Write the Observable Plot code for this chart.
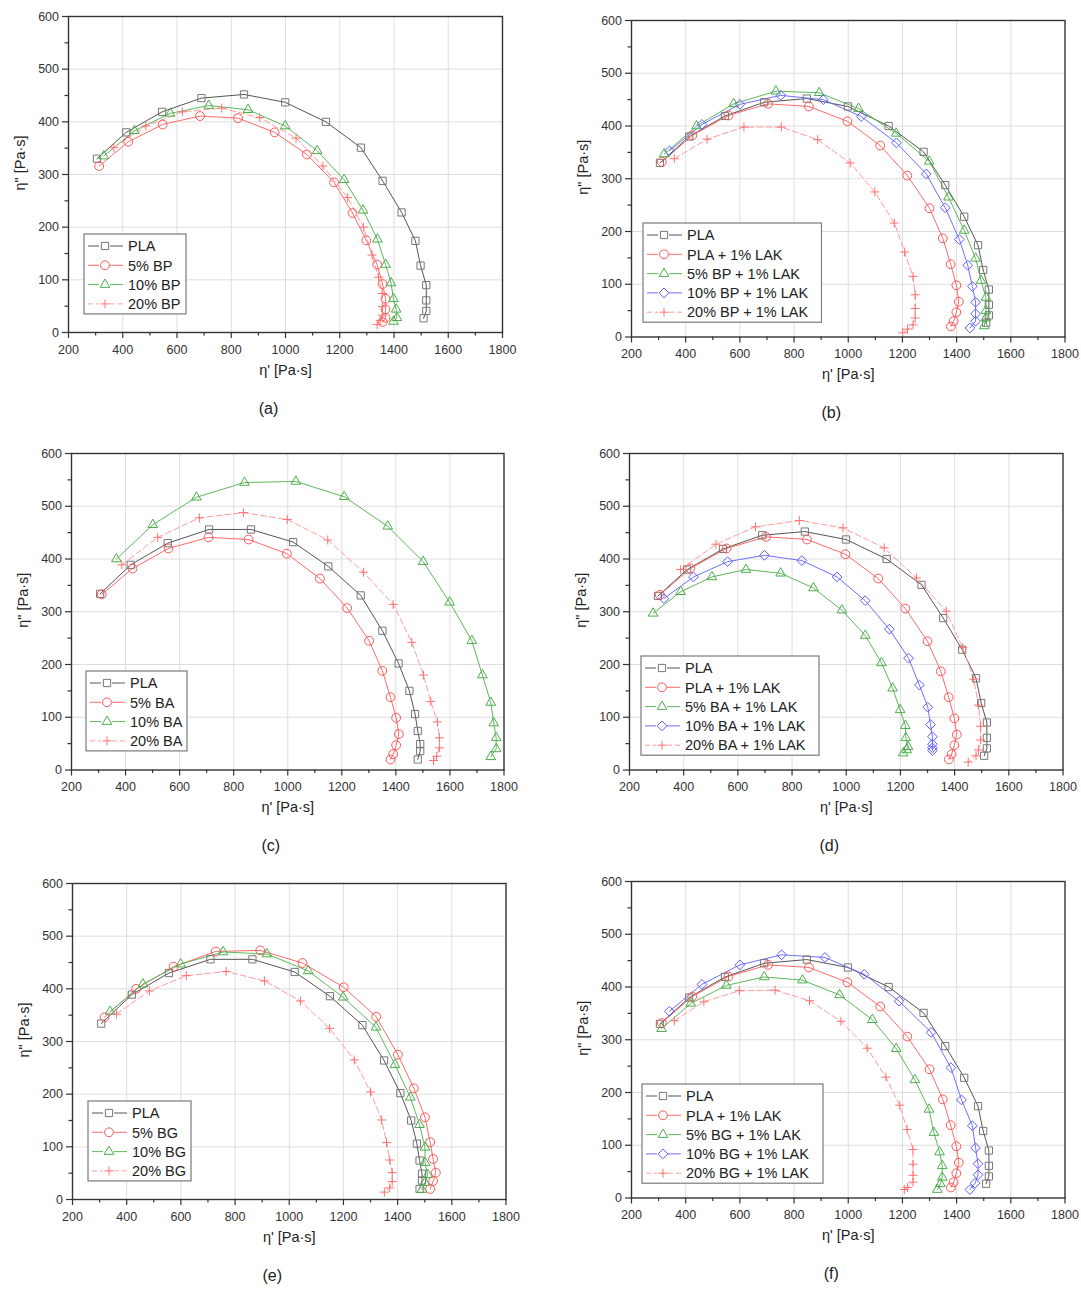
<!DOCTYPE html>
<html><head><meta charset="utf-8">
<script src="https://cdn.jsdelivr.net/npm/d3@7"></script>
<script src="https://cdn.jsdelivr.net/npm/@observablehq/plot@0.6"></script>
<style>
body{margin:0;background:#fff;}
#wrap{position:relative;width:1081px;height:1290px;overflow:hidden;font-family:Arial,"Liberation Sans",sans-serif;}
.panel{position:absolute;}
.legend{position:absolute;}
</style></head><body><div id="wrap"></div>
<script>
// ---- axis ticks ----
const xTicks = [200,400,600,800,1000,1200,1400,1600,1800];
const xMinor = [300,500,700,900,1100,1300,1500,1700];
const yTicks = [0,100,200,300,400,500,600];
const yMinor = [50,150,250,350,450,550];
const xGrid = [400,600,800,1000,1200,1400,1600];
const yGrid = [100,200,300,400,500];

// ---- series values [eta', eta''] ----
const PLA_A = [[305,330],[413,380],[545,419],[690,445],[847,452],[999,437],[1149,400],[1278,351],[1358,288],[1428,228],[1479,174],[1498,127],[1519,90],[1519,61],[1519,41],[1509,27]];
const PLA_C = [[306,334],[419,389],[556,430],[709,456],[864,456],[1020,432],[1150,386],[1270,331],[1350,264],[1410,202],[1450,150],[1471,106],[1481,74],[1490,49],[1490,36],[1481,20]];
const PLA_LAK = [[312,332],[424,382],[558,420],[704,442],[855,437],[997,409],[1118,363],[1218,306],[1300,244],[1349,187],[1378,138],[1399,98],[1408,67],[1399,47],[1389,30],[1379,20]];

const BP5 = [[313,316],[420,362],[547,395],[685,411],[825,407],[960,380],[1079,338],[1179,285],[1247,227],[1298,175],[1338,129],[1358,92],[1369,64],[1369,44],[1369,28],[1358,20]];
const BP10 = [[330,335],[443,383],[575,416],[717,431],[862,423],[999,392],[1117,345],[1216,290],[1286,232],[1339,177],[1369,129],[1389,94],[1398,64],[1408,44],[1411,28],[1398,21]];
const BP20 = [[367,351],[485,392],[620,419],[765,426],[905,408],[1039,369],[1138,316],[1229,256],[1288,200],[1319,147],[1343,105],[1357,74],[1357,49],[1357,33],[1349,23],[1338,15]];

const BP5_LAK = [[321,347],[440,400],[577,442],[733,466],[893,463],[1038,433],[1177,386],[1299,333],[1370,265],[1428,202],[1470,149],[1490,107],[1508,75],[1508,50],[1508,36],[1502,21]];
const BP10_LAK = [[340,353],[460,403],[600,441],[751,458],[908,450],[1048,418],[1178,368],[1288,309],[1358,245],[1410,185],[1441,136],[1458,96],[1470,66],[1470,44],[1470,30],[1449,17]];
const BP20_LAK = [[358,338],[479,375],[615,398],[753,398],[887,374],[1007,330],[1098,275],[1170,216],[1208,161],[1239,115],[1247,80],[1247,54],[1247,36],[1239,23],[1219,15],[1201,8]];

const BA5 = [[312,333],[426,382],[559,420],[707,441],[855,437],[997,410],[1119,363],[1220,307],[1301,245],[1350,188],[1380,138],[1401,99],[1411,68],[1401,47],[1390,30],[1380,20]];
const BA10 = [[366,400],[501,465],[662,517],[840,545],[1030,547],[1209,518],[1370,462],[1501,395],[1599,318],[1681,245],[1720,180],[1751,128],[1762,89],[1771,61],[1771,40],[1751,25]];
const BA20 = [[386,389],[519,441],[673,478],[836,488],[998,475],[1148,436],[1280,375],[1390,314],[1459,242],[1502,180],[1529,130],[1554,91],[1561,61],[1561,42],[1551,26],[1539,18]];

const BA5_LAK = [[287,297],[389,338],[504,366],[630,380],[758,373],[879,345],[984,303],[1070,255],[1130,203],[1171,155],[1199,114],[1218,84],[1220,61],[1228,44],[1223,38],[1210,32]];
const BA10_LAK = [[327,325],[436,366],[562,395],[698,407],[836,397],[966,366],[1070,321],[1159,267],[1230,212],[1270,161],[1301,119],[1311,86],[1318,63],[1318,49],[1318,42],[1318,37]];
const BA20_LAK = [[389,380],[519,428],[665,461],[827,473],[988,459],[1140,421],[1259,364],[1369,301],[1430,232],[1471,172],[1488,123],[1496,83],[1496,57],[1488,38],[1479,27],[1450,15]];

const BG5 = [[318,346],[435,400],[573,442],[729,471],[893,473],[1049,449],[1201,403],[1321,347],[1401,275],[1460,211],[1501,156],[1520,109],[1531,77],[1541,51],[1531,35],[1520,20]];
const BG10 = [[339,357],[460,409],[599,447],[756,470],[918,466],[1070,434],[1199,384],[1320,327],[1390,256],[1447,194],[1481,142],[1501,99],[1501,70],[1511,47],[1501,32],[1490,19]];
const BG20 = [[362,352],[484,396],[620,425],[767,433],[909,415],[1041,377],[1149,325],[1240,265],[1300,204],[1341,151],[1359,108],[1371,75],[1380,51],[1380,34],[1371,22],[1351,14]];

const BG5_LAK = [[311,321],[419,369],[550,403],[690,419],[831,413],[968,385],[1089,338],[1177,283],[1246,224],[1298,168],[1316,124],[1337,87],[1347,61],[1347,39],[1340,27],[1329,16]];
const BG10_LAK = [[340,354],[460,405],[600,442],[754,461],[914,456],[1059,424],[1188,373],[1306,314],[1379,247],[1418,186],[1458,137],[1470,95],[1479,65],[1479,44],[1468,28],[1449,16]];
const BG20_LAK = [[358,336],[467,372],[598,393],[730,394],[857,374],[973,335],[1070,284],[1139,229],[1190,176],[1217,130],[1239,92],[1239,64],[1239,43],[1239,30],[1219,20],[1207,16]];

// ---- labels ----
const xLabel = "η' [Pa·s]";
const yLabel = 'η" [Pa·s]';
const panelLabels = ["(a)","(b)","(c)","(d)","(e)","(f)"];

// ---- styles ----
const STY = {
  gray:  {line:"#555555", mark:"#777777", sym:d3.symbolSquare2,   r:4.6, dash:null},
  red:   {line:"#ff6a6a", mark:"#ff5555", sym:d3.symbolCircle,    r:4.4, dash:null},
  green: {line:"#5cb85c", mark:"#4cae4c", sym:d3.symbolTriangle2, r:4.6, dash:null},
  blue:  {line:"#6f6fff", mark:"#5c5cff", sym:d3.symbolDiamond2,  r:4.4, dash:null},
  pink:  {line:"#ff9c9c", mark:"#ff7070", sym:d3.symbolPlus,      r:3.0, dash:"6,3"}
};

const panels = [
  {frame:[68,16,502,332], legend:[84,234,102], series:[
    ["PLA",PLA_A,"gray"],["5% BP",BP5,"red"],["10% BP",BP10,"green"],["20% BP",BP20,"pink"]]},
  {frame:[630.5,20,1064,336.5], legend:[642.5,223,178.5], series:[
    ["PLA",PLA_A,"gray"],["PLA + 1% LAK",PLA_LAK,"red"],["5% BP + 1% LAK",BP5_LAK,"green"],["10% BP + 1% LAK",BP10_LAK,"blue"],["20% BP + 1% LAK",BP20_LAK,"pink"]]},
  {frame:[70.5,452.5,503,769], legend:[86,671,101], series:[
    ["PLA",PLA_C,"gray"],["5% BA",BA5,"red"],["10% BA",BA10,"green"],["20% BA",BA20,"pink"]]},
  {frame:[628.5,452.5,1062,769], legend:[641,656,178], series:[
    ["PLA",PLA_A,"gray"],["PLA + 1% LAK",PLA_LAK,"red"],["5% BA + 1% LAK",BA5_LAK,"green"],["10% BA + 1% LAK",BA10_LAK,"blue"],["20% BA + 1% LAK",BA20_LAK,"pink"]]},
  {frame:[71.5,882.5,505,1198.5], legend:[88,1101,103], series:[
    ["PLA",PLA_C,"gray"],["5% BG",BG5,"red"],["10% BG",BG10,"green"],["20% BG",BG20,"pink"]]},
  {frame:[630.5,880.5,1064,1197], legend:[642,1084,181], series:[
    ["PLA",PLA_A,"gray"],["PLA + 1% LAK",PLA_LAK,"red"],["5% BG + 1% LAK",BG5_LAK,"green"],["10% BG + 1% LAK",BG10_LAK,"blue"],["20% BG + 1% LAK",BG20_LAK,"pink"]]}
];

const wrap = document.getElementById("wrap");
const mL = 70, mR = 20, mT = 10, mB = 95;
const FONT = 'Arial, "Liberation Sans", sans-serif';
const plain = d => String(d);

panels.forEach((p, i) => {
  const [L,T,R,B] = p.frame;
  const w = R - L, h = B - T;
  const marks = [
    Plot.gridX(xGrid, {stroke:"#dedede", strokeOpacity:1, strokeWidth:1}),
    Plot.gridY(yGrid, {stroke:"#dedede", strokeOpacity:1, strokeWidth:1}),
    Plot.axisX(xTicks, {tickSize:6, tickPadding:6.5, fontSize:12.5, tickFormat:plain, label:null, stroke:"#333", strokeWidth:1.2}),
    Plot.axisX(xMinor, {tickSize:3.5, tickFormat:() => "", label:null, stroke:"#333", strokeWidth:1.2}),
    Plot.axisY(yTicks, {tickSize:6, tickPadding:3.5, fontSize:12.5, tickFormat:plain, label:null, stroke:"#333", strokeWidth:1.2}),
    Plot.axisY(yMinor, {tickSize:3.5, tickFormat:() => "", label:null, stroke:"#333", strokeWidth:1.2})
  ];
  p.series.forEach(([name, data, sk]) => {
    const s = STY[sk];
    marks.push(Plot.line(data, {x:d => d[0], y:d => d[1], stroke:s.line, strokeWidth:1, strokeDasharray:s.dash || undefined}));
  });
  p.series.forEach(([name, data, sk]) => {
    const s = STY[sk];
    marks.push(Plot.dot(data, {x:d => d[0], y:d => d[1], symbol:s.sym, r:s.r, stroke:s.mark, fill:"none", strokeWidth:1}));
  });
  marks.push(Plot.frame({stroke:"#333", strokeWidth:1.4}));
  marks.push(Plot.text([xLabel], {text:d => d, frameAnchor:"bottom", dy:42, fontSize:14.5, fill:"#222"}));
  marks.push(Plot.text([yLabel], {text:d => d, frameAnchor:"left", dx:-48, dy:16, rotate:-90, fontSize:14.5, fill:"#222"}));
  marks.push(Plot.text([panelLabels[i]], {text:d => d, frameAnchor:"bottom", dx:-17, dy:81, fontSize:16, fill:"#222"}));

  const chart = Plot.plot({
    width: w + mL + mR, height: h + mT + mB,
    marginLeft: mL, marginRight: mR, marginTop: mT, marginBottom: mB,
    x: {domain:[200,1800]}, y: {domain:[0,600]},
    style: {fontFamily: FONT, color:"#333", background:"transparent", overflow:"visible"},
    marks
  });
  chart.classList.add("panel");
  chart.style.left = (L - mL) + "px";
  chart.style.top = (T - mT) + "px";
  wrap.appendChild(chart);

  // legend box
  const [lx, ly, lw] = p.legend;
  const n = p.series.length;
  const lh = 12 + 19.3 * (n - 1) + 10;
  const svg = d3.create("svg").attr("class","legend").attr("width", lw + 2).attr("height", lh + 2)
    .style("left", (lx - 1) + "px").style("top", (ly - 1) + "px");
  svg.append("rect").attr("x",1).attr("y",1).attr("width",lw).attr("height",lh)
    .attr("fill","#fff").attr("stroke","#7a7a7a").attr("stroke-width",1.2);
  p.series.forEach(([name, data, sk], k) => {
    const s = STY[sk];
    const cy = 1 + 12 + 19.3 * k;
    const g = svg.append("g");
    [[5,16],[27,40]].forEach(([a,b]) => g.append("line").attr("x1",a).attr("x2",b).attr("y1",cy).attr("y2",cy)
      .attr("stroke", s.line).attr("stroke-width",1).attr("stroke-dasharray", s.dash ? "5,3" : null));
    g.append("path").attr("transform",`translate(22,${cy})`)
      .attr("d", d3.symbol(s.sym, Math.PI * s.r * s.r)())
      .attr("fill","none").attr("stroke", s.mark).attr("stroke-width",1);
    g.append("text").attr("x",45).attr("y",cy).attr("dy","0.36em")
      .attr("font-family",FONT).attr("font-size",14.5).attr("fill","#222").text(name);
  });
  wrap.appendChild(svg.node());
});
</script>
</body></html>
